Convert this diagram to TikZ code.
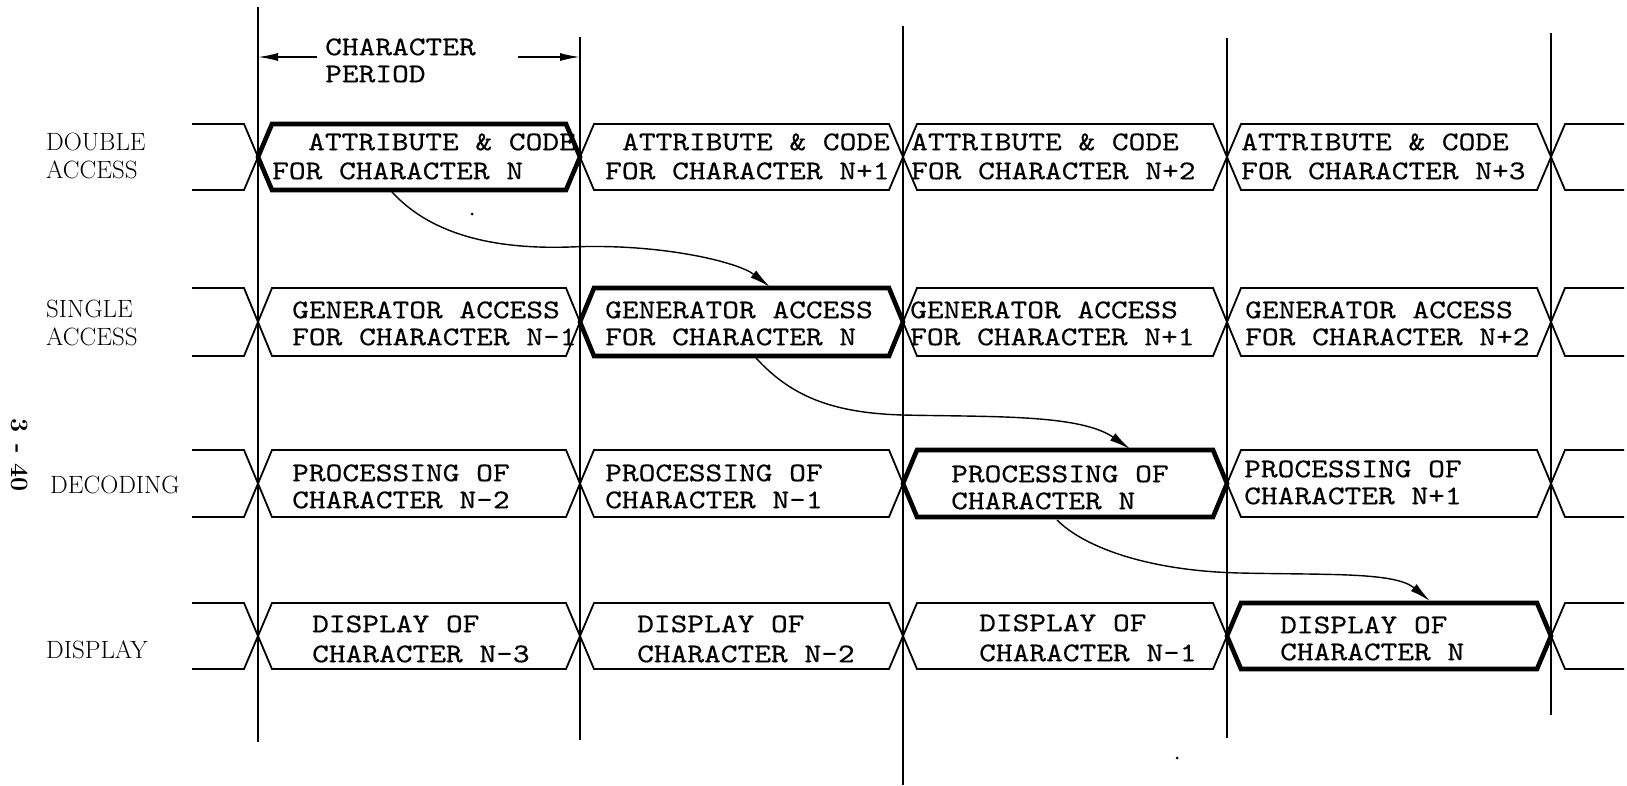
\documentclass[tikz,border=0pt]{standalone}
\usepackage{fontspec}
\usetikzlibrary{arrows.meta}
\newfontfamily\twfont{lmmono10-regular.otf}[FakeStretch=1.18,FakeBold=0.4]
\newcommand\hexbox[5]{%
  \draw[#1] (#2,{(#4+#5)/2}) -- ({#2+14},#4) -- ({#3-14},#4) -- (#3,{(#4+#5)/2}) -- ({#3-14},#5) -- ({#2+14},#5) -- cycle;}
\begin{document}
\begin{tikzpicture}[x=1pt,y=-1pt,
  sig/.style={line width=1.8pt, line join=miter},
  sigthick/.style={line width=4.6pt, line join=miter},
  vline/.style={line width=2.4pt},
  flow/.style={line width=1.4pt, -{Latex[length=21pt,width=9pt]}},
  period/.style={line width=1.6pt, -{Latex[length=20pt,width=8pt]}},
  boxtxt/.style={anchor=base west, inner sep=0pt, yshift=-8.2pt, font=\twfont\fontsize{27}{31}\selectfont},
  rowlab/.style={anchor=base west, inner sep=0pt, yshift=-8.5pt, font=\fontsize{25}{29}\selectfont}]
\useasboundingbox (0,0) rectangle (1627,785);

% vertical timing lines
\draw[vline] (258,7) -- (258,742);
\draw[vline] (580,37) -- (580,740);
\draw[vline] (903,26) -- (903,785);
\draw[vline] (1227,38) -- (1227,738);
\draw[vline] (1551,33) -- (1551,715);

% signal rows
\foreach \T/\B in {124/190, 288/356, 450/517, 603/669} {
  \pgfmathsetmacro\M{(\T+\B)/2}
  \draw[sig] (192,\T) -- (244,\T) -- (258,\M) -- (244,\B) -- (192,\B);
  \draw[sig] (1624,\T) -- (1565,\T) -- (1551,\M) -- (1565,\B) -- (1624,\B);
  \foreach \xl/\xr in {258/580, 580/903, 903/1227, 1227/1551} {
    \hexbox{sig}{\xl}{\xr}{\T}{\B}
  }
}
\hexbox{sigthick}{258}{580}{124}{190}
\hexbox{sigthick}{580}{903}{288}{356}
\hexbox{sigthick}{903}{1227}{450}{517}
\hexbox{sigthick}{1227}{1551}{603}{669}

% character period
\coordinate (pl) at (317,57);
\coordinate (pr) at (518,57);
\coordinate (gl) at (258,57);
\coordinate (gr) at (580,57);
\draw[period] (pl) -- (gl);
\draw[period] (pr) -- (gr);
\node[boxtxt] (cp1) at (325,47) {CHARACTER};
\node[boxtxt] (cp2) at (325,74) {PERIOD};

% row labels
\node[rowlab] (l1a) at (46,142) {DOUBLE};
\node[rowlab] (l1b) at (46,170) {ACCESS};
\node[rowlab] (l2a) at (46,309) {SINGLE};
\node[rowlab] (l2b) at (46,337) {ACCESS};
\node[rowlab] (l3) at (50,485) {DECODING};
\node[rowlab] (l4) at (46,650) {DISPLAY};
\node[rotate=-90, inner sep=0pt, font=\bfseries\fontsize{25}{29}\selectfont] (pg) at (20,455) {3\hspace{12pt}-\hspace{10pt}40};

% row 1 texts
\node[boxtxt] (a1) at (308,142) {ATTRIBUTE \& CODE};
\node[boxtxt] (a1b) at (272,171) {FOR CHARACTER N};
\node[boxtxt] (a2) at (622,142) {ATTRIBUTE \& CODE};
\node[boxtxt] (a2b) at (605,171) {FOR CHARACTER N+1};
\node[boxtxt] (a3) at (911,142) {ATTRIBUTE \& CODE};
\node[boxtxt] (a3b) at (911,171) {FOR CHARACTER N+2};
\node[boxtxt] (a4) at (1241,142) {ATTRIBUTE \& CODE};
\node[boxtxt] (a4b) at (1241,171) {FOR CHARACTER N+3};

% row 2 texts
\node[boxtxt] (g1) at (292,310) {GENERATOR ACCESS};
\node[boxtxt] (g1b) at (292,337) {FOR CHARACTER N-1};
\node[boxtxt] (g2) at (605,310) {GENERATOR ACCESS};
\node[boxtxt] (g2b) at (605,337) {FOR CHARACTER N};
\node[boxtxt] (g3) at (910,310) {GENERATOR ACCESS};
\node[boxtxt] (g3b) at (910,337) {FOR CHARACTER N+1};
\node[boxtxt] (g4) at (1245,310) {GENERATOR ACCESS};
\node[boxtxt] (g4b) at (1245,337) {FOR CHARACTER N+2};

% row 3 texts
\node[boxtxt] (p1) at (292,473) {PROCESSING OF};
\node[boxtxt] (p1b) at (292,500) {CHARACTER N-2};
\node[boxtxt] (p2) at (605,473) {PROCESSING OF};
\node[boxtxt] (p2b) at (605,500) {CHARACTER N-1};
\node[boxtxt] (p3) at (951,474) {PROCESSING OF};
\node[boxtxt] (p3b) at (951,501) {CHARACTER N};
\node[boxtxt] (p4) at (1244,469) {PROCESSING OF};
\node[boxtxt] (p4b) at (1244,496) {CHARACTER N+1};

% row 4 texts
\node[boxtxt] (d1) at (312,624) {DISPLAY OF};
\node[boxtxt] (d1b) at (312,654) {CHARACTER N-3};
\node[boxtxt] (d2) at (637,624) {DISPLAY OF};
\node[boxtxt] (d2b) at (637,654) {CHARACTER N-2};
\node[boxtxt] (d3) at (979,623) {DISPLAY OF};
\node[boxtxt] (d3b) at (979,653) {CHARACTER N-1};
\node[boxtxt] (d4) at (1280,625) {DISPLAY OF};
\node[boxtxt] (d4b) at (1280,652) {CHARACTER N};

% flow arrows
\coordinate (s1) at (392,192);
\coordinate (e1) at (770,287);
\coordinate (s2) at (756,358);
\coordinate (e2) at (1130,449);
\coordinate (s3) at (1057,520);
\coordinate (e3) at (1430,601);
\draw[flow] (s1) .. controls (425,228) and (480,250) .. (570,247) .. controls (660,243) and (738,262) .. (e1);
\draw[flow] (s2) .. controls (790,395) and (830,413) .. (903,415) .. controls (990,417) and (1080,414) .. (e2);
\draw[flow] (s3) .. controls (1085,548) and (1150,571) .. (1240,573) .. controls (1330,575) and (1395,572) .. (e3);

% specks
\fill (472,214) circle (1.5);
\fill (1177,758) circle (1.5);
\end{tikzpicture}
\end{document}
